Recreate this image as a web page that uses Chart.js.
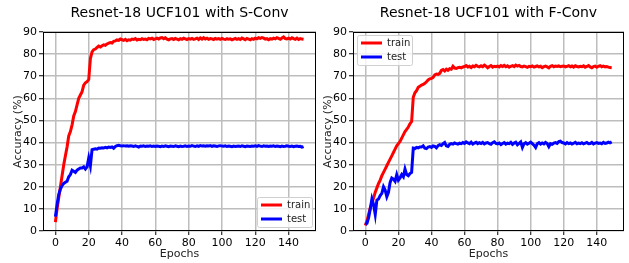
<!DOCTYPE html>
<html>
<head>
<meta charset='utf-8' />
<title>Resnet-18 UCF101</title>
<script src="https://cdn.jsdelivr.net/npm/chart.js"></script>
<style>
body { margin:0; padding:0; background:#fff; }
#wrap { position:relative; width:629px; height:263px; }
#leftChart { position:absolute; left:0; top:0; }
#rightChart { position:absolute; left:318px; top:0; }
</style>
</head>
<body>
<div id="wrap">
  <canvas id="leftChart" width="318" height="263"></canvas>
  <canvas id="rightChart" width="311" height="263"></canvas>
</div>

<script>

/* data */

const epochs = Array.from({length: 150}, (_, i) => i);

const xTicks = [0, 20, 40, 60, 80, 100, 120, 140];
const yTicks = [0, 10, 20, 30, 40, 50, 60, 70, 80, 90];

const sconvTrain = [
  4, 10, 15, 20, 25, 30, 34, 38, 43, 45,
  48, 52, 54, 57, 60, 61.5, 63, 66, 67, 67.5,
  68.5, 78, 81, 82, 82.3, 83, 83.6, 83.2, 83.8, 84.2,
  84, 84.6, 85, 85.2, 85, 85.8, 86, 86.4, 86.2, 86.8,
  86.5, 86.2, 86.7, 86.1, 86.5, 86.3, 86.8, 86.6, 87, 86.4,
  86.7, 86.5, 87, 86.6, 86.8, 86.5, 87.1, 86.9, 87.2, 86.6,
  86.9, 87.2, 86.8, 87.3, 87.5, 87, 87.4, 86.8, 86.5, 86.9,
  87, 86.6, 87.1, 86.8, 86.5, 87, 86.7, 87.2, 86.9, 86.6,
  87, 86.8, 87.1, 86.7, 86.9, 87.2, 86.6, 87.3, 86.8, 87.4,
  86.8, 87.2, 86.7, 87, 86.9, 86.6, 87.1, 86.8, 87, 86.7,
  87.1, 86.8, 86.6, 87, 86.7, 86.9, 86.5, 86.8, 87.1, 86.7,
  87, 86.6, 87.3, 86.9, 86.5, 87.1, 86.8, 86.5, 87, 86.7,
  87.2, 86.9, 87.4, 87.1, 87.5, 87.2, 86.8, 87, 86.5, 87,
  86.8, 87.2, 86.9, 87.4, 87.1, 86.7, 87.3, 87.8, 87, 86.9,
  87.2, 86.8, 87.4, 87, 86.7, 87.2, 86.6, 87, 86.8, 86.7
];

const sconvTest = [
  6.5, 12, 16.5, 19, 20.5, 21.5, 22, 22.5, 24.5, 25.5,
  27.5, 27, 26.5, 27.5, 28, 28.5, 28.5, 29, 28, 29,
  33, 29.5, 36.8, 37, 37.2, 37, 37.5, 37.4, 37.6, 37.5,
  37.8, 37.6, 38, 37.8, 38, 37.4, 38.2, 38.6, 38.8, 38.6,
  38.5, 38.6, 38.4, 38.5, 38.3, 38.5, 38.4, 38.2, 38.5, 38.3,
  38, 38.4, 38.3, 38.5, 38.2, 38.4, 38.3, 38.5, 38.2, 38.4,
  38.2, 38.4, 38.3, 38.1, 38.4, 38.2, 38.5, 38.3, 38.1, 38.4,
  38.3, 38.2, 38.5, 38.3, 38.1, 38.4, 38.2, 38.3, 38.5, 38.2,
  38.4, 38.3, 38.6, 38.4, 38.2, 38.5, 38.3, 38.6, 38.4, 38.5,
  38.3, 38.5, 38.4, 38.6, 38.3, 38.5, 38.4, 38.2, 38.5, 38.6,
  38.4, 38.3, 38.5, 38.2, 38.4, 38.3, 38.1, 38.4, 38.2, 38.3,
  38.4, 38.2, 38.5, 38.3, 38.1, 38.4, 38.3, 38.2, 38.4, 38.3,
  38.5, 38.3, 38.6, 38.4, 38.2, 38.5, 38.3, 38.4, 38.2, 38.4,
  38.3, 38.5, 38.2, 38.4, 38.3, 38.1, 38.4, 38.2, 38.3, 38.5,
  38.3, 38.2, 38.4, 38.1, 38.3, 38.4, 38.2, 38.3, 37.9, 38.2
];

const fconvTrain = [
  2.5, 4.5, 7.5, 10.5, 12.5, 15, 17.5, 19.5, 21.5, 23,
  25, 26.5, 28, 29.5, 31, 32.5, 34, 35.5, 37, 38.5,
  39.5, 40.5, 42, 43.5, 45, 46, 47, 48.5, 49.5, 60.5,
  62.5, 63.5, 65, 65.5, 66, 66.3, 66.8, 67.5, 68.3, 68.8,
  69, 69.5, 70.6, 71, 70.8, 71.3, 72.6, 73, 72.4, 73.2,
  72.7, 73.4, 73.2, 74.5, 73.7, 73.5, 73.9, 74, 73.8, 74.2,
  74.4, 74.8, 74.2, 74.5, 73.9, 74.6, 74.3, 74.9, 74.5, 74.2,
  74.7, 74.3, 75, 74.5, 73.8, 74.4, 74.8, 74.1, 74.5, 74.3,
  74.6, 74.2, 74.8, 74.4, 74.9, 74.3, 74.7, 74.1, 74.5, 74.8,
  74.3, 75, 74.6, 74.9, 74.4, 74.2, 74.6, 74.3, 74, 74.5,
  74.3, 74.6, 74.1, 74.4, 74.7, 74.2, 74.5, 73.9, 74.3, 74.6,
  74.2, 73.8, 74.5, 74.8, 74.3, 74.6, 74.4, 74.7, 74.3, 74.5,
  74.6, 74.2, 74.5, 74.8, 74.3, 74.6, 74.1, 74.7, 74.4, 74.2,
  74.5, 74.3, 74.7, 74.1, 74.4, 74.8, 74.2, 73.8, 74.4, 74.6,
  74.1, 74.5, 74.8, 74.3, 74.6, 74.2, 74.4, 74.1, 73.9, 73.8
];

const fconvTest = [
  3, 3.5, 6, 10, 14.5, 12, 7.5, 14, 14.5, 16,
  17, 20, 18.5, 15.5, 17.5, 22, 24, 23.5, 22.5, 25.5,
  23, 24, 25.5, 24.5, 28, 25.5, 25, 26, 26.5, 37.5,
  37.3, 37.8, 37.6, 38, 38, 38.5, 37.5, 37.3, 38, 38.2,
  37.8, 38.5, 38.3, 37.6, 38.6, 39, 38.7, 39.5, 40, 38.5,
  38.2, 39.2, 39.5, 39.3, 39.8, 39.5, 39.3, 39.7, 39.5, 40,
  39.6, 40.3, 39.8, 39.5, 40.2, 39.3, 39.8, 40.1, 39.5, 39.9,
  39.6, 40.1, 39.4, 39.8, 40, 39.5, 39.2, 39.9, 40.3, 39.6,
  39.4, 39.8, 39.1, 39.6, 40, 39.3, 39.7, 39.5, 40.1, 39.2,
  39.8, 40.2, 39, 39.6, 40.3, 37.8, 39.5, 40, 39.3, 39.7,
  40.2, 39.5, 38.8, 37.8, 39.5, 40, 39.3, 39.8, 39.4, 40.1,
  39.6, 38.2, 39.5, 39.2, 39.8, 40, 39.6, 40.4, 40.6, 40,
  39.8, 39.4, 40, 39.5, 39.8, 39.3, 39.7, 40.1, 39.5, 39.8,
  39.5, 39.9, 39.4, 39.7, 40, 39.5, 39.6, 40.1, 39.4, 39.7,
  40, 39.6, 39.8, 39.5, 40.1, 39.6, 39.8, 40.2, 39.9, 40.3
];

/* chart settings */

const FONT = "'DejaVu Sans', sans-serif";

const toPoints = (vals) => epochs.map((e, i) => ({x: e, y: vals[i]}));

// title, frame and legend drawn by hand (matplotlib style)
const mplPlugin = {
  id: 'mpl',
  afterDraw: (chart, args, opts) => {
    const ctx = chart.ctx;
    const a = chart.chartArea;
    ctx.save();

    // title
    ctx.fillStyle = '#000';
    ctx.font = "14px " + FONT;
    ctx.textAlign = 'center';
    ctx.textBaseline = 'middle';
    ctx.fillText(opts.title, (a.left + a.right) / 2, 13);

    // frame
    ctx.strokeStyle = '#000';
    ctx.lineWidth = 1;
    ctx.strokeRect(Math.round(a.left) + 0.5, Math.round(a.top) + 0.5,
                   Math.round(a.right - a.left) - 1, Math.round(a.bottom - a.top) - 1);

    // legend
    const w = 55, h = 30;
    let bx, by;
    if (opts.legend == 'br') {
      bx = a.right - w - 4;
      by = a.bottom - h - 4;
    } else {
      bx = a.left + 4;
      by = a.top + 3;
    }
    ctx.fillStyle = 'rgba(255,255,255,0.8)';
    ctx.strokeStyle = '#d0d0d0';
    ctx.lineWidth = 1;
    ctx.beginPath();
    ctx.roundRect(bx + 0.5, by + 0.5, w, h, 2);
    ctx.fill();
    ctx.stroke();

    ctx.font = "10px " + FONT;
    ctx.textAlign = 'left';
    ctx.textBaseline = 'middle';
    chart.data.datasets.forEach((ds, i) => {
      const ly = by + 8 + i * 14;
      ctx.strokeStyle = ds.borderColor;
      ctx.lineWidth = 3;
      ctx.beginPath();
      ctx.moveTo(bx + 4, ly);
      ctx.lineTo(bx + 25, ly);
      ctx.stroke();
      ctx.fillStyle = '#222';
      ctx.fillText(ds.label, bx + 30, ly);
    });

    ctx.restore();
  }
};

const makeOptions = (title, legend, yWidth, padRight, yTitlePad) => ({
  responsive: false,
  animation: false,
  layout: {
    padding: { top: 32, right: padRight, left: 0, bottom: 0 }
  },
  plugins: {
    legend: { display: false },
    tooltip: { enabled: false },
    mpl: { title: title, legend: legend }
  },
  scales: {
    x: {
      type: 'linear',
      min: -7.45,
      max: 156.45,
      afterBuildTicks: (s) => { s.ticks = xTicks.map(v => ({value: v})); },
      afterFit: (s) => { s.height = 32; },
      grid: { color: '#bdbdbd', lineWidth: 1.5, tickColor: '#000', tickLength: 4, tickWidth: 1 },
      border: { display: false },
      ticks: { color: '#000', font: { family: FONT, size: 11 }, padding: 2, maxRotation: 0 },
      title: { display: true, text: 'Epochs', color: '#222', font: { family: FONT, size: 11 }, padding: { top: 0, bottom: 2 } }
    },
    y: {
      min: 0,
      max: 90,
      afterBuildTicks: (s) => { s.ticks = yTicks.map(v => ({value: v})); },
      afterFit: (s) => { s.width = yWidth; },
      grid: { color: '#bdbdbd', lineWidth: 1.5, tickColor: '#000', tickLength: 4, tickWidth: 1 },
      border: { display: false },
      ticks: { color: '#000', font: { family: FONT, size: 11 }, padding: 2 },
      title: { display: true, text: 'Accuracy (%)', color: '#222', font: { family: FONT, size: 11 }, padding: { top: yTitlePad, bottom: 4 } }
    }
  }
});

const makeData = (train, test) => ({
  datasets: [
    { label: 'train', data: toPoints(train), borderColor: '#ff0000', borderWidth: 3, pointRadius: 0, order: 1 },
    { label: 'test', data: toPoints(test), borderColor: '#0000ff', borderWidth: 3, pointRadius: 0, order: 0 }
  ]
});

const leftChart = new Chart(document.getElementById('leftChart'), {
  type: 'line',
  data: makeData(sconvTrain, sconvTest),
  options: makeOptions('Resnet-18 UCF101 with S-Conv', 'br', 43, 2, 12),
  plugins: [mplPlugin]
});

const rightChart = new Chart(document.getElementById('rightChart'), {
  type: 'line',
  data: makeData(fconvTrain, fconvTest),
  options: makeOptions('Resnet-18 UCF101 with F-Conv', 'tl', 35, 5, 4),
  plugins: [mplPlugin]
});

</script>
</body>
</html>
